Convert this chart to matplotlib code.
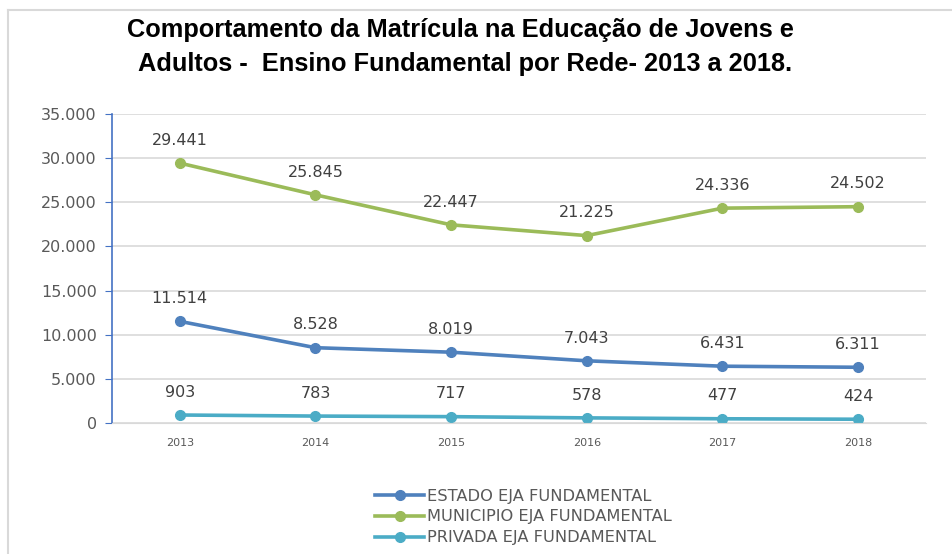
import matplotlib
matplotlib.use('Agg')
import matplotlib.pyplot as plt
from matplotlib.ticker import FuncFormatter

anos = ['2013', '2014', '2015', '2016', '2017', '2018']
estado = [11514, 8528, 8019, 7043, 6431, 6311]
municipio = [29441, 25845, 22447, 21225, 24336, 24502]
privada = [903, 783, 717, 578, 477, 424]
series = ['ESTADO EJA FUNDAMENTAL', 'MUNICIPIO EJA FUNDAMENTAL', 'PRIVADA EJA FUNDAMENTAL']
cores = ['#4F81BD', '#9BBB59', '#4BACC6']

plt.rcParams['font.family'] = ['DejaVu Sans']

def milhar(v, pos=None):
    return f'{int(v):,}'.replace(',', '.')

fig = plt.figure(figsize=(9.52, 5.54), dpi=100)
ax = fig.add_axes([0.1176, 0.2365, 0.855, 0.5577])

x = range(len(anos))
for dados, nome, cor in zip([estado, municipio, privada], series, cores):
    ax.plot(x, dados, color=cor, lw=2.6, marker='o', ms=7, label=nome)
    for xi, v in zip(x, dados):
        ax.annotate(milhar(v), (xi, v), xytext=(0, 11), textcoords='offset points',
                    ha='center', va='bottom', fontsize=11.5, color='#404040')

ax.set_xlim(-0.5, 5.5)
ax.set_ylim(0, 35000)
ax.set_yticks(range(0, 35001, 5000))
ax.yaxis.set_major_formatter(FuncFormatter(milhar))
ax.set_xticks(list(x))
ax.set_xticklabels(anos, fontsize=8, color='#595959')
for t in ax.get_yticklabels():
    t.set_fontsize(11.5)
    t.set_color('#595959')
ax.tick_params(axis='x', length=0, pad=11)
ax.tick_params(axis='y', length=5, color='#4472C4', pad=6)
ax.grid(axis='y', color='#D9D9D9', lw=1.2)
ax.set_axisbelow(True)
for s in ['top', 'right']:
    ax.spines[s].set_visible(False)
ax.spines['bottom'].set_color('#D9D9D9')
ax.spines['left'].set_color('#4472C4')
ax.spines['left'].set_linewidth(1.2)

titulo = dict(ha='center', va='center', fontsize=18.3, fontweight='bold',
              family='Liberation Sans')
fig.text(0.484, 0.945, 'Comportamento da Matrícula na Educação de Jovens e', **titulo)
fig.text(0.489, 0.885, 'Adultos -  Ensino Fundamental por Rede- 2013 a 2018.', **titulo)

leg = fig.legend(loc='center', bbox_to_anchor=(0.55, 0.067), frameon=False,
                 handlelength=3, handletextpad=0.2, labelspacing=0.36,
                 prop={'size': 11.7})
for t in leg.get_texts():
    t.set_color('#595959')

# moldura do grafico
fig.add_artist(plt.Line2D([0.0084, 0.0084], [0, 0.982], color='#D9D9D9', lw=1.5))
fig.add_artist(plt.Line2D([0.0084, 1], [0.982, 0.982], color='#D9D9D9', lw=1.5))

fig.savefig('out.png', dpi=100)
